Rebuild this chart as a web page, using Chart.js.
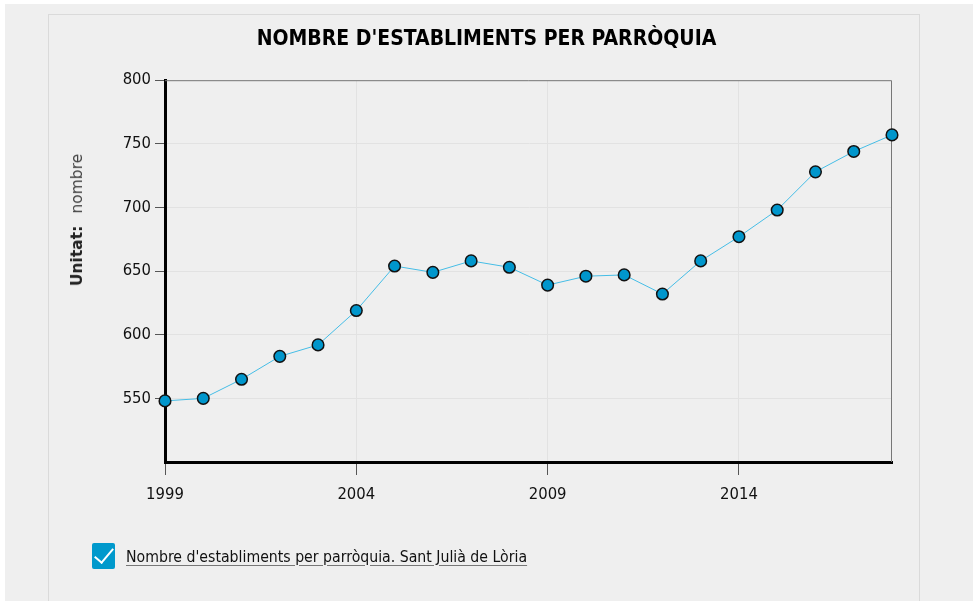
<!DOCTYPE html>
<html>
<head>
<meta charset="utf-8">
<script src="https://cdn.jsdelivr.net/npm/chart.js@4"></script>
<style>
  body { margin: 0; background: #fff; width: 973px; height: 601px; overflow: hidden; position: relative; }
  #bg { position: absolute; left: 5px; top: 4px; width: 968px; height: 597px; background: #efefef; }
  #panel { position: absolute; left: 48px; top: 14px; width: 870px; height: 600px; border: 1px solid #dadada; background: #efefef; }
  #myChart { position: absolute; left: 0; top: 0; }
  #unit { position: absolute; left: 77px; top: 220px; transform: translate(-50%, -50%) rotate(-90deg); white-space: nowrap;
          font-family: "DejaVu Sans", sans-serif; font-size: 15.5px; color: #444; }
  #unit b { margin-right: 12px; color: #222; }
  #legend { position: absolute; left: 92px; top: 543px; display: flex; align-items: center; }
  #check { width: 23px; height: 26px; background: #0099cc; border-radius: 2px; position: relative; }
  #check::after { content: ""; position: absolute; left: 7px; top: 1px; width: 8px; height: 17px;
                  border-right: 2px solid #fff; border-bottom: 2px solid #fff; transform: rotate(40deg); }
  #legendText { margin-left: 11px; font-family: "DejaVu Sans Condensed", sans-serif; font-size: 15.7px; color: #111;
                text-decoration: underline; text-decoration-color: #777; text-underline-offset: 3px; }
</style>
</head>
<body>
<div id="bg"></div>
<div id="panel"></div>
<canvas id="myChart" width="973" height="601"></canvas>
<div id="unit"><b>Unitat:</b>nombre</div>
<div id="legend"><div id="check"></div><span id="legendText"></span></div>
<script>
const chartTitle = "NOMBRE D'ESTABLIMENTS PER PARRÒQUIA";
const seriesName = "Nombre d'establiments per parròquia. Sant Julià de Lòria";
const years = [1999, 2000, 2001, 2002, 2003, 2004, 2005, 2006, 2007, 2008,
               2009, 2010, 2011, 2012, 2013, 2014, 2015, 2016, 2017, 2018];
const establiments = [548, 550, 565, 583, 592, 619, 654, 649, 658, 653,
                      639, 646, 647, 632, 658, 677, 698, 728, 744, 757];
const xTickYears = [1999, 2004, 2009, 2014];

document.getElementById('legendText').textContent = seriesName;

let points = [];
for (let i = 0; i < years.length; i++) {
    points.push({ x: years[i], y: establiments[i] });
}

const tickFont = { family: "'DejaVu Sans Condensed', sans-serif", size: 16.5 };

// thin grey frame on the top and right of the plot
const frame = {
    id: 'frame',
    beforeDatasetsDraw(chart) {
        const a = chart.chartArea;
        const ctx = chart.ctx;
        ctx.save();
        ctx.strokeStyle = '#777';
        ctx.lineWidth = 1;
        ctx.beginPath();
        ctx.moveTo(a.left, a.top + 0.5);
        ctx.lineTo(a.right - 0.5, a.top + 0.5);
        ctx.lineTo(a.right - 0.5, a.bottom);
        ctx.stroke();
        ctx.restore();
    }
};

const config = {
    type: 'line',
    data: {
        datasets: [{
            label: seriesName,
            data: points,
            borderColor: '#45bde6',
            borderWidth: 1,
            backgroundColor: '#0096cc',
            pointBackgroundColor: '#0096cc',
            pointBorderColor: '#111',
            pointBorderWidth: 1.5,
            pointRadius: 5.8,
            tension: 0,
            clip: false
        }]
    },
    options: {
        responsive: false,
        animation: false,
        layout: { padding: 0 },
        plugins: {
            legend: { display: false },
            tooltip: { enabled: false },
            title: {
                display: true,
                text: chartTitle,
                color: '#000',
                font: { family: "'DejaVu Sans Condensed', sans-serif", size: 21, weight: 'bold', lineHeight: 1.2 },
                padding: { top: 27, bottom: 28 }
            }
        },
        scales: {
            x: {
                type: 'linear',
                min: 1999,
                max: 2018,
                afterBuildTicks: (scale) => { scale.ticks = xTickYears.map(v => ({ value: v })); },
                afterFit: (scale) => { scale.height = 139; },
                border: { color: '#000', width: 3 },
                grid: { color: '#e2e2e2', tickColor: '#555', tickLength: 13 },
                ticks: { color: '#111', font: tickFont, padding: 10, maxRotation: 0, callback: (v) => String(v) }
            },
            y: {
                min: 500,
                max: 800,
                afterBuildTicks: (scale) => { scale.ticks = scale.ticks.filter(t => t.value > 500); },
                afterFit: (scale) => { scale.width = 165; },
                border: { color: '#000', width: 3 },
                grid: { color: '#e2e2e2', tickColor: '#555', tickLength: 10 },
                ticks: { color: '#111', font: tickFont, padding: 4, stepSize: 50 }
            },
            // empty right-hand axis, keeps the plot off the right edge
            yRight: {
                position: 'right',
                min: 500,
                max: 800,
                afterFit: (scale) => { scale.width = 81; },
                border: { display: false },
                grid: { display: false },
                ticks: { display: false }
            }
        }
    },
    plugins: [frame]
};

var myChart = new Chart(document.getElementById('myChart'), config);
</script>
</body>
</html>
